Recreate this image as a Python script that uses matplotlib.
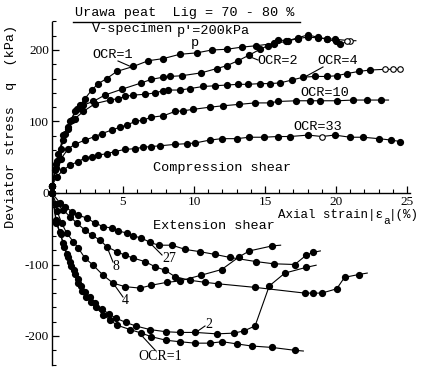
import matplotlib
matplotlib.use("Agg")
import matplotlib.pyplot as plt
from matplotlib.lines import Line2D
import numpy as np

plt.rcParams['axes.unicode_minus'] = False

# ---------------- data (axial strain %, deviator stress kPa) ----------------
# compression shear (last point of each list = end of drawn line, no marker)
c1_x = [0, 0.21, 0.44, 0.8, 1.15, 1.39, 1.74, 1.97, 2.32, 2.8, 3.26, 3.85, 4.56, 5.73, 6.78, 7.84,
        9.0, 10.2, 11.25, 12.3, 13.36, 14.4, 15.6, 16.5, 17.3, 18.0, 18.7, 19.35, 19.9, 21.0, 21.4]
c1_q = [10, 32, 55, 74, 90, 102, 118, 123, 132, 144, 153, 160, 170, 177, 185, 188,
        194, 196, 200, 201, 204, 206, 209, 212, 216, 218, 217, 216, 215, 213, 213]
c1_open = [29]

c2_x = [0, 0.3, 0.6, 0.95, 1.27, 1.62, 2.2, 2.9, 3.73, 4.9, 6.3, 7.0, 7.84, 8.3, 9.13, 10.5, 11.6,
        12.3, 13.1, 13.9, 14.65, 15.2, 15.6, 15.9, 16.6, 17.3, 18.0, 18.7, 19.35, 20.0, 20.3, 20.8, 21.0]
c2_q = [10, 40, 62, 82, 100, 114, 123, 128, 137, 145, 154, 159, 162, 163, 164, 168, 174,
        178, 185, 193, 201, 206, 210, 214, 213, 217, 221, 218, 215, 212, 208, 212, 212]
c2_open = [31]

c4_x = [0, 0.35, 0.8, 1.15, 1.62, 2.2, 3.03, 4.08, 4.67, 5.14, 5.73, 6.55, 7.25, 7.84, 8.2, 9.0,
        9.7, 10.65, 11.5, 12.3, 13.1, 13.8, 14.65, 15.35, 16.06, 16.9, 17.7, 18.5, 19.35, 20.05,
        20.75, 21.6, 22.4, 23.45, 24.0, 24.5, 24.6]
c4_q = [10, 45, 81, 93, 104, 114, 125, 130, 132, 135, 137, 138, 140, 143, 144, 144,
        146, 149, 150, 151, 152, 152, 153, 153, 154, 158, 162, 163, 163, 164,
        167, 170, 172, 173, 173, 173, 173]
c4_open = [33, 34, 35]

c10_x = [0, 0.3, 0.63, 1.15, 1.6, 2.32, 3.03, 3.5, 4.2, 4.79, 5.26, 5.85, 6.43, 7.0, 7.84, 8.66,
         9.25, 9.95, 11.1, 12.06, 13.2, 14.3, 15.35, 15.9, 17.2, 18.2, 18.9, 20.1, 21.2, 22.2, 23.2, 23.7]
c10_q = [10, 35, 48, 62, 68, 74, 79, 83, 88, 92, 95, 100, 102, 106, 108, 114,
         115, 117, 120, 122, 124, 126, 126, 128, 129, 129, 129, 129, 130, 130, 130, 130]
c10_open = []

c33_x = [0, 0.33, 0.8, 1.27, 1.85, 2.32, 2.8, 3.26, 3.85, 4.44, 5.14, 5.85, 6.43, 7.0, 7.6, 8.66,
         9.5, 10.1, 11.1, 11.95, 13.0, 13.9, 14.9, 15.9, 16.76, 18.05, 19.0, 19.9, 21.0, 21.9,
         23.0, 23.9, 24.5, 24.6]
c33_q = [10, 23, 32, 39, 44, 49, 51, 53, 55, 58, 61, 62, 64, 65, 66, 68,
         69, 70, 74, 76, 76, 78, 78, 79, 79, 81, 79, 81, 78, 78,
         76, 74, 72, 72]
c33_open = [26]

# extension shear
e1_x = [0, 0.3, 0.6, 0.85, 1.1, 1.35, 1.6, 1.85, 2.1, 2.4, 2.75, 3.1, 3.6, 4.1, 4.6, 5.5, 6.3,
        7.0, 8.05, 9.0, 10.07, 11.1, 12.0, 13.0, 14.06, 15.5, 17.1, 17.7]
e1_q = [0, -42, -58, -75, -90, -102, -113, -126, -137, -145, -153, -160, -170, -178, -185, -191, -196,
        -201, -206, -208, -210, -210, -208, -211, -214, -216, -220, -221]

e2_x = [0, 0.3, 0.55, 0.8, 1.05, 1.3, 1.55, 1.8, 2.05, 2.3, 2.65, 3.0, 3.5, 4.0, 4.5, 5.2, 5.9,
        6.9, 8.0, 9.0, 10.1, 11.6, 12.8, 13.5, 14.3, 15.3, 16.4, 17.9, 18.6]
e2_q = [0, -38, -55, -70, -85, -97, -108, -120, -130, -138, -146, -154, -162, -169, -175, -181, -186,
        -191, -194, -195, -195, -197, -196, -193, -186, -130, -112, -104, -101]

e4_x = [0, 0.35, 0.68, 1.03, 1.5, 1.85, 2.32, 2.9, 3.6, 4.3, 5.14, 6.2, 7.0, 8.07, 9.0, 10.5,
        11.95, 13.2, 13.9, 15.5, 16.1]
e4_q = [0, -25, -42, -56, -68, -77, -91, -101, -115, -126, -131, -133, -129, -125, -123, -115,
        -107, -89, -81, -74, -73]

e8_x = [0, 0.3, 0.8, 1.27, 1.74, 2.32, 2.8, 3.4, 3.85, 4.56, 5.14, 5.73, 6.55, 7.25, 7.96, 8.66,
        9.7, 10.8, 11.7, 14.3, 17.8, 18.4, 19.0, 20.05, 20.6, 21.6, 22.2]
e8_q = [0, -15, -24, -33, -42, -52, -59, -66, -75, -82, -87, -91, -96, -103, -108, -117,
        -122, -125, -127, -132, -140, -140, -140, -134, -118, -114, -112]

e27_x = [0, 0.56, 0.92, 1.39, 1.85, 2.44, 3.03, 3.6, 4.2, 4.67, 5.26, 5.73, 6.3, 6.9, 7.5, 8.45,
         9.4, 10.4, 11.5, 12.5, 14.4, 15.6, 17.1, 17.9, 18.4, 18.9]
e27_q = [0, -14, -19, -26, -31, -35, -42, -47, -49, -53, -56, -60, -63, -69, -73, -73,
         -79, -82, -86, -90, -96, -99, -100, -87, -83, -81]

series = [
    (c1_x, c1_q, c1_open), (c2_x, c2_q, c2_open), (c4_x, c4_q, c4_open),
    (c10_x, c10_q, c10_open), (c33_x, c33_q, c33_open),
    (e1_x, e1_q, []), (e2_x, e2_q, []), (e4_x, e4_q, []), (e8_x, e8_q, []), (e27_x, e27_q, []),
]

x_major = [5, 10, 15, 20, 25]
y_major = [-200, -100, 0, 100, 200]

# ---------------- figure ----------------
W, H = 423, 368
fig = plt.figure(figsize=(W / 100, H / 100), dpi=100)
ax = fig.add_axes([0, 0, 1, 1])
X0, SX = 52.0, 14.2      # pixel of x=0, px per %
Y0, SY = 193.0, 0.715    # pixel of q=0, px per kPa
ax.set_xlim(-X0 / SX, (W - X0) / SX)
ax.set_ylim((Y0 - H) / SY, Y0 / SY)
ax.patch.set_visible(False)

for xs, qs, opn in series:
    xs = np.asarray(xs); qs = np.asarray(qs)
    ax.plot(xs, qs, '-', color='black', lw=0.8, zorder=2)
    idx = [i for i in range(len(xs) - 1) if i not in opn]
    ax.plot(xs[idx], qs[idx], 'o', color='black', ms=4.2, zorder=3)
    if opn:
        ax.plot(xs[opn], qs[opn], 'o', mfc='white', mec='black', mew=0.8, ms=4.0, zorder=3)

for s in ['top', 'right']:
    ax.spines[s].set_visible(False)
ax.spines['left'].set_position(('data', 0))
ax.spines['bottom'].set_position(('data', 0))
ax.spines['left'].set_bounds(-241, 239)
ax.spines['bottom'].set_bounds(0, 25.2)
for s in ['left', 'bottom']:
    ax.spines[s].set_linewidth(1.0)

ax.set_xticks(x_major)
ax.set_xticklabels([str(v) for v in x_major])
ax.set_xticks(np.arange(1, 26), minor=True)
ax.set_yticks(y_major)
ax.set_yticklabels([str(v) for v in y_major])
ax.set_yticks(np.arange(-240, 241, 20), minor=True)
ax.tick_params(axis='both', which='major', direction='in', length=5, width=0.9,
               labelsize=9.5, pad=2)
ax.tick_params(axis='both', which='minor', direction='in', length=3, width=0.8)
for lab in ax.get_xticklabels() + ax.get_yticklabels():
    lab.set_fontfamily('Liberation Serif')

MONO = 'Liberation Mono'
SERIF = 'Liberation Serif'


def ftxt(px, py, s, size=9.7, family=MONO, ha='left', va='center', **kw):
    fig.text(px / W, 1 - py / H, s, fontsize=size, family=family, ha=ha, va=va, **kw)


def fline(p1, p2, lw=0.8):
    fig.add_artist(Line2D([p1[0] / W, p2[0] / W], [1 - p1[1] / H, 1 - p2[1] / H],
                          color='black', lw=lw, transform=fig.transFigure))


# header
ftxt(75, 13, "Urawa peat  Lig = 70 - 80 %")
fline((73, 21.5), (300, 21.5), lw=1.0)
ftxt(92, 29, "V-specimen")
ftxt(177, 31, "p'=200kPa")
ftxt(191, 43, "p")

# compression labels
ftxt(92, 55, "OCR=1")
fline((118, 61), (134, 68))
ftxt(257, 61, "OCR=2")
fline((248, 56), (258, 60))
ftxt(317, 61, "OCR=4")
fline((323, 67), (303, 78))
ftxt(300, 93, "OCR=10")
ftxt(293, 127, "OCR=33")
ftxt(153, 168, "Compression shear")
ftxt(153, 226, "Extension shear")

# axis label on strain
ftxt(278, 215, "Axial strain|ε", size=9)
ftxt(383, 221, "a", size=8)
ftxt(389, 215, "|(%)", size=9)

# y label
fig.text(11 / W, 1 - 126 / H, "Deviator stress  q  (kPa)", rotation=90,
         fontsize=9.7, family=MONO, ha='center', va='center')

# extension labels
ftxt(162, 258, "27", size=10, family=SERIF)
fline((150, 243), (162, 255))
ftxt(112, 267, "8", size=10, family=SERIF)
fline((107, 247), (113, 262))
ftxt(122, 301, "4", size=10, family=SERIF)
fline((113, 283), (123, 297))
ftxt(205, 324, "2", size=10, family=SERIF)
fline((195, 333), (205, 326))
ftxt(138, 357, "OCR=1", size=10, family=SERIF)
fline((143, 337), (155, 350))

fig.savefig("out.png", dpi=100)
